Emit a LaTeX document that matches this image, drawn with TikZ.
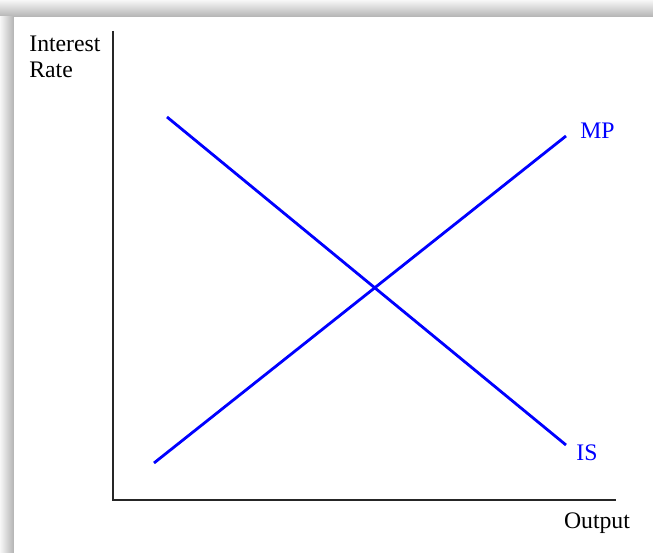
\documentclass[tikz,border=0pt]{standalone}
\usepackage{fontspec}
\setmainfont{Liberation Serif}
\usetikzlibrary{positioning}

\tikzset{
  axis/.style={draw=black!85,line width=1.1pt},
  curve/.style={draw=blue,line width=1.6pt},
  curvelabel/.style={text=blue,inner sep=0pt,anchor=base west},
  axislabel/.style={inner sep=0pt,font=\fontsize{13.5}{14.8}\selectfont}
}

\begin{document}
\begin{tikzpicture}[x=0.02cm,y=-0.02cm]
  \useasboundingbox (0,0) rectangle (653,553);
  % window shadow at top and left
  \shade[top color=black!3,bottom color=black!30] (0,0) rectangle (653,17);
  \shade[left color=black!3,right color=black!30] (0,17) rectangle (14,553);
  \fill[white] (14,17) rectangle (653,553);
  % axes
  \coordinate (O) at (113,500);
  \coordinate (ytop) at (113,31);
  \coordinate (xend) at (616,500);
  \draw[axis] (ytop) -- (O) -- (xend);
  % IS and MP curves
  \coordinate (isA) at (167,117);
  \coordinate (isB) at (566,445);
  \coordinate (mpA) at (154,463);
  \coordinate (mpB) at (566,136);
  \draw[curve] (isA) -- (isB);
  \draw[curve] (mpA) -- (mpB);
  % labels
  \node[curvelabel,axislabel] (mp) at (580,139) {MP};
  \node[curvelabel,axislabel] (is) at (576,461) {IS};
  \node[axislabel,anchor=base] (out) at (597,529) {Output};
  \node[axislabel,align=left,anchor=base west] (ir) at (29,78) {Interest\\Rate};
\end{tikzpicture}
\end{document}
